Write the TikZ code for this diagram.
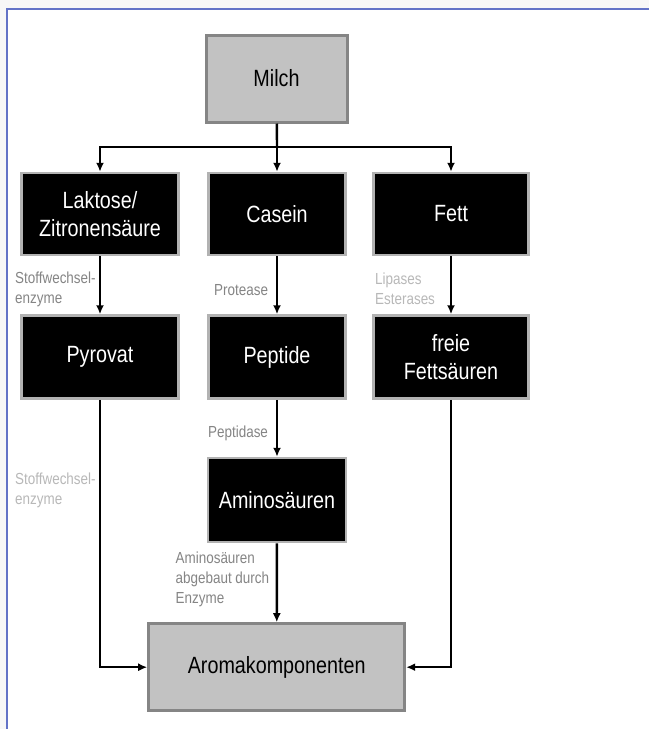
\documentclass[tikz,border=0pt]{standalone}
\usepackage{fontspec}
\setmainfont{Liberation Sans}[FakeStretch=0.84]
\usetikzlibrary{arrows.meta}
\definecolor{framecol}{rgb}{0.39,0.45,0.78}
\definecolor{greyfill}{gray}{0.76}
\definecolor{greyline}{gray}{0.52}
\definecolor{blackline}{gray}{0.70}
\definecolor{labeldark}{gray}{0.52}
\definecolor{labellight}{gray}{0.72}
\begin{document}
\begin{tikzpicture}[x=1pt,y=-1pt,>={Latex[length=9pt,width=8pt]},
  greybox/.style={draw=greyline,fill=greyfill,line width=3pt,text=black,
    font=\fontsize{23.5}{28}\selectfont,align=center,inner sep=0pt},
  blackbox/.style={draw=blackline,fill=black,line width=2.5pt,text=white,
    font=\fontsize{23.5}{28}\selectfont,align=center,inner sep=0pt},
  flow/.style={->,line width=2.4pt,black},
  enzlabel/.style={anchor=west,align=left,inner sep=0pt,
    font=\fontsize{16}{20}\selectfont},
]
\useasboundingbox (0,0) rectangle (649,729);
%% background and frame
\fill[gray!6] (0,0) rectangle (649,729);
\fill[white] (7,9) rectangle (649,729);
\draw[framecol,line width=1.6pt] (7,729) -- (7,9) -- (649,9);
%%
  % Node: milch
  \node[greybox,minimum width=141pt,minimum height=87pt] (milch) at (276.5,78.5) {Milch};
  % Node: laktose
  \node[blackbox,minimum width=157pt,minimum height=82pt] (laktose) at (100,214) {Laktose/\\Zitronensäure};
  % Node: casein
  \node[blackbox,minimum width=137pt,minimum height=82pt] (casein) at (277,214) {Casein};
  % Node: fett
  \node[blackbox,minimum width=155pt,minimum height=82pt] (fett) at (451,214) {Fett};
  % Node: pyrovat
  \node[blackbox,minimum width=157pt,minimum height=83pt] (pyrovat) at (100,357) {Pyrovat};
  % Node: peptide
  \node[blackbox,minimum width=137pt,minimum height=83pt] (peptide) at (277,357) {Peptide};
  % Node: freie
  \node[blackbox,minimum width=155pt,minimum height=83pt] (freie) at (451,357) {freie\\Fettsäuren};
  % Node: amino
  \node[blackbox,minimum width=138pt,minimum height=84pt] (amino) at (277,500) {Aminosäuren};
  % Node: aroma
  \node[greybox,minimum width=256pt,minimum height=87pt] (aroma) at (276.7,667.2) {Aromakomponenten};
%%
  \coordinate (split) at (277,147);
  % Edge: milch -> laktose, casein, fett
  \draw[line width=2.4pt] (milch) -- (split);
  \draw[flow] (split) -| (laktose);
  \draw[flow] (split) -- (casein);
  \draw[flow] (split) -| (fett);
  % Edge: laktose -> pyrovat
  \draw[flow] (laktose) -- (pyrovat);
  % Edge: casein -> peptide
  \draw[flow] (casein) -- (peptide);
  % Edge: fett -> freie
  \draw[flow] (fett) -- (freie);
  % Edge: peptide -> amino
  \draw[flow] (peptide) -- (amino);
  % Edge: amino -> aroma
  \draw[flow] (amino) -- (aroma);
  % Edge: pyrovat -> aroma
  \draw[flow] (pyrovat) |- (aroma);
  % Edge: freie -> aroma
  \draw[flow] (freie) |- (aroma);
%%
  % Labels
  \node[enzlabel,text=labeldark] (lbstoff) at (15,289) {Stoffwechsel-\\enzyme};
  \node[enzlabel,text=labeldark] (lbprot) at (214,290) {Protease};
  \node[enzlabel,text=labellight] (lblip) at (375,289) {Lipases\\Esterases};
  \node[enzlabel,text=labeldark] (lbpept) at (208,433) {Peptidase};
  \node[enzlabel,text=labellight] (lbstofftwo) at (15,490) {Stoffwechsel-\\enzyme};
  \node[enzlabel,text=labeldark] (lbamino) at (175.5,579) {Aminosäuren\\abgebaut durch\\Enzyme};
%
\end{tikzpicture}
\end{document}
